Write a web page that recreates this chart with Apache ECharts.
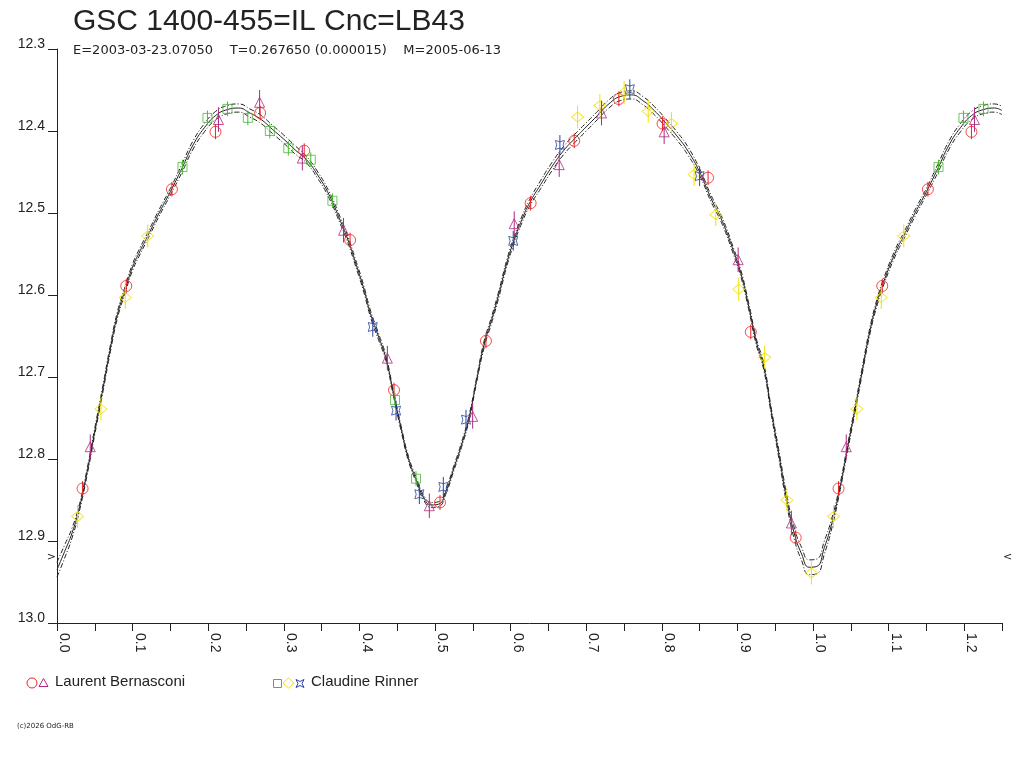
<!DOCTYPE html>
<html>
<head>
<meta charset="utf-8">
<title>GSC 1400-455=IL Cnc=LB43</title>
<script src="https://cdn.jsdelivr.net/npm/echarts@6/dist/echarts.min.js"></script>
<style>
html, body { margin: 0; padding: 0; background: #fff; }
#chart { width: 1024px; height: 768px; }
</style>
</head>
<body>
<div id="chart"></div>
<script>
// fitted light curve: phase and magnitude (middle fit, upper and lower envelope)
const fitPhase = [
  0.000,0.010,0.020,0.030,0.040,0.050,0.060,0.070,0.080,0.090,
  0.100,0.110,0.120,0.135,0.150,0.165,0.180,0.195,0.210,0.225,
  0.240,0.255,0.270,0.285,0.300,0.315,0.330,0.345,0.360,0.375,
  0.385,0.395,0.405,0.415,0.425,0.435,0.445,0.455,0.465,0.475,
  0.485,0.495,0.505,0.515,0.525,0.535,0.545,0.555,0.565,0.575,
  0.585,0.595,0.605,0.615,0.625,0.640,0.655,0.670,0.685,0.700,
  0.715,0.730,0.745,0.760,0.775,0.790,0.805,0.820,0.835,0.850,
  0.865,0.880,0.895,0.905,0.915,0.925,0.935,0.945,0.955,0.965,
  0.975,0.985,0.995,1.005,1.015,1.025,1.035,1.045,1.055,1.065,
  1.075,1.085,1.095,1.110,1.120,1.135,1.150,1.165,1.180,1.195,
  1.210,1.225,1.240,1.250
];
const fitMid = [
  12.935,12.913,12.890,12.858,12.815,12.766,12.718,12.668,12.624,12.594,
  12.566,12.546,12.528,12.500,12.474,12.446,12.417,12.396,12.381,12.374,
  12.372,12.378,12.386,12.398,12.410,12.423,12.435,12.454,12.478,12.510,
  12.533,12.561,12.590,12.624,12.650,12.677,12.720,12.762,12.800,12.825,
  12.847,12.856,12.855,12.838,12.811,12.783,12.750,12.704,12.660,12.630,
  12.597,12.561,12.532,12.508,12.488,12.465,12.443,12.424,12.409,12.395,
  12.381,12.367,12.358,12.356,12.363,12.375,12.390,12.406,12.425,12.450,
  12.482,12.510,12.547,12.575,12.614,12.657,12.688,12.743,12.795,12.848,
  12.890,12.916,12.932,12.931,12.908,12.878,12.838,12.790,12.742,12.693,
  12.645,12.608,12.580,12.546,12.528,12.500,12.474,12.446,12.417,12.396,
  12.381,12.374,12.372,12.375
];
const fitUpper = [
  12.926,12.905,12.884,12.854,12.811,12.762,12.714,12.664,12.620,12.590,
  12.562,12.542,12.524,12.496,12.470,12.441,12.412,12.391,12.376,12.369,
  12.367,12.373,12.381,12.393,12.405,12.418,12.431,12.450,12.474,12.506,
  12.529,12.557,12.586,12.620,12.646,12.674,12.717,12.759,12.797,12.822,
  12.844,12.853,12.852,12.835,12.808,12.780,12.747,12.701,12.656,12.626,
  12.593,12.557,12.528,12.504,12.484,12.460,12.438,12.419,12.404,12.390,
  12.376,12.362,12.353,12.351,12.358,12.370,12.385,12.401,12.420,12.446,
  12.478,12.506,12.543,12.571,12.610,12.653,12.684,12.739,12.790,12.842,
  12.883,12.908,12.923,12.922,12.900,12.872,12.834,12.786,12.738,12.689,
  12.641,12.604,12.576,12.542,12.524,12.496,12.470,12.441,12.412,12.391,
  12.376,12.369,12.367,12.370
];
const fitLower = [
  12.944,12.921,12.896,12.862,12.819,12.770,12.722,12.672,12.628,12.598,
  12.570,12.550,12.532,12.504,12.478,12.451,12.422,12.401,12.386,12.379,
  12.377,12.383,12.391,12.403,12.415,12.428,12.439,12.458,12.482,12.514,
  12.537,12.565,12.594,12.628,12.654,12.680,12.723,12.765,12.803,12.828,
  12.850,12.859,12.858,12.841,12.814,12.786,12.753,12.707,12.664,12.634,
  12.601,12.565,12.536,12.512,12.492,12.470,12.448,12.429,12.414,12.400,
  12.386,12.372,12.363,12.361,12.368,12.380,12.395,12.411,12.430,12.454,
  12.486,12.514,12.551,12.579,12.618,12.661,12.692,12.747,12.800,12.854,
  12.897,12.924,12.941,12.940,12.916,12.884,12.842,12.794,12.746,12.697,
  12.649,12.612,12.584,12.550,12.532,12.504,12.478,12.451,12.422,12.401,
  12.386,12.379,12.377,12.380
];

// observations [phase, mag]
// Laurent Bernasconi
const lbCircle = [
  [0.0338,12.836],[0.0916,12.589],[0.152,12.471],[0.2096,12.401],[0.2687,12.378],
  [0.327,12.424],[0.3877,12.533],[0.4458,12.716],[0.5066,12.853],[0.5674,12.656],
  [0.6265,12.488],[0.6841,12.412],[0.7432,12.361],[0.801,12.391],[0.8612,12.457],
  [0.9177,12.645],[0.9771,12.896]
];
const lbTriangle = [
  [0.044,12.785],[0.2136,12.386],[0.268,12.365],[0.3245,12.433],[0.379,12.521],
  [0.437,12.677],[0.4925,12.857],[0.5498,12.748],[0.6048,12.513],[0.6643,12.441],
  [0.7203,12.378],[0.8031,12.401],[0.901,12.557],[0.9714,12.878]
];
// Claudine Rinner
const crSquare = [
  [0.166,12.444],[0.199,12.384],[0.2255,12.373],[0.2524,12.384],[0.2815,12.400],
  [0.306,12.421],[0.3357,12.435],[0.3643,12.485],[0.4471,12.728],[0.4749,12.824]
];
const crDiamond = [
  [0.0272,12.870],[0.0581,12.739],[0.0903,12.603],[0.120,12.528],[0.6886,12.383],
  [0.7181,12.369],[0.7502,12.353],[0.782,12.376],[0.8128,12.391],[0.8427,12.453],
  [0.8714,12.502],[0.9018,12.593],[0.936,12.676],[0.9655,12.850],[0.9979,12.939]
];
const crStar = [
  [0.4177,12.639],[0.4485,12.741],[0.4793,12.843],[0.511,12.834],[0.541,12.752],
  [0.6035,12.534],[0.6652,12.417],[0.7577,12.349],[0.850,12.455]
];
// half length of the error bars (mag)
const errCircle = 0.009, errTriangle = 0.015, errSquare = 0.009, errDiamond = 0.014, errStar = 0.012;

const xTicks = { min: 0, max: 1.25, step: 0.05 };
const yTicks = { min: 12.3, max: 13.0, step: 0.1 };
const minLevel = 12.92;

const titleText = 'GSC 1400-455=IL Cnc=LB43';
const subText = 'E=2003-03-23.07050    T=0.267650 (0.000015)    M=2005-06-13';

const ink = '#222';
const starPath = 'path://M0,0 Q5,3 10,0 Q7,5 10,10 Q5,7 0,10 Q3,5 0,0 Z';

// phase plot shows 0..1.25, so early phases repeat one cycle later
const wrap = pts => pts.concat(pts.filter(p => p[0] < 0.25).map(p => [p[0] + 1, p[1]]));

const fitLine = (mags, type) => ({
  type: 'line',
  data: fitPhase.map((p, i) => [p, mags[i]]),
  showSymbol: false,
  smooth: true,
  silent: true,
  lineStyle: { color: ink, width: 1, type: type },
  z: 2
});

const observer = (pts, symbol, size, color, err) => {
  const data = wrap(pts);
  return [{
    type: 'scatter',
    data: data,
    symbol: symbol,
    symbolSize: size,
    itemStyle: { color: 'rgba(0,0,0,0)', borderColor: color, borderWidth: 1 },
    z: 3
  }, {
    type: 'custom',
    data: data.map(p => [p[0], p[1], err]),
    renderItem: (params, api) => {
      const x = api.value(0), y = api.value(1), e = api.value(2);
      const a = api.coord([x, y - e]);
      const b = api.coord([x, y + e]);
      return { type: 'line', shape: { x1: a[0], y1: a[1], x2: b[0], y2: b[1] },
               style: { stroke: color, lineWidth: 1 } };
    },
    z: 4
  }];
};

const chart = echarts.init(document.getElementById('chart'));
chart.setOption({
  animation: false,
  backgroundColor: '#fff',
  title: [{
    text: titleText, left: 73, top: 7, padding: 0,
    textStyle: { fontFamily: 'Liberation Sans', fontSize: 30, fontWeight: 'normal', color: ink }
  }, {
    text: subText, left: 73, top: 44, padding: 0,
    textStyle: { fontFamily: 'DejaVu Sans', fontSize: 13, fontWeight: 'normal', color: ink }
  }],
  grid: { left: 57, top: 49, width: 945, height: 574, containLabel: false },
  xAxis: {
    type: 'value', min: xTicks.min, max: xTicks.max, interval: xTicks.step,
    axisLine: { onZero: false, lineStyle: { color: ink, width: 1 } },
    axisTick: { length: 8, lineStyle: { color: ink } },
    splitLine: { show: false },
    axisLabel: {
      rotate: -90, margin: 10, verticalAlign: 'bottom',
      fontFamily: 'Liberation Sans', fontSize: 14, color: ink,
      showMinLabel: true, showMaxLabel: true,
      formatter: v => (Math.round(v * 100) % 10 === 0) ? v.toFixed(1) : ''
    }
  },
  yAxis: {
    type: 'value', inverse: true, min: yTicks.min, max: yTicks.max, interval: yTicks.step,
    axisLine: { show: true, lineStyle: { color: ink, width: 1 } },
    axisTick: { show: true, length: 9, lineStyle: { color: ink } },
    splitLine: { show: false },
    axisLabel: {
      margin: 12, verticalAlign: 'bottom', lineHeight: 10,
      fontFamily: 'Liberation Sans', fontSize: 14, color: ink,
      formatter: v => v.toFixed(1)
    }
  },
  series: [
    fitLine(fitUpper, [5, 2, 1, 2]),
    fitLine(fitMid, 'solid'),
    fitLine(fitLower, [5, 2, 1, 2]),
    ...observer(lbCircle, 'circle', 11, '#ee2222', errCircle),
    ...observer(lbTriangle, 'triangle', 10, '#b0287e', errTriangle),
    ...observer(crSquare, 'rect', 9, '#4cb838', errSquare),
    ...observer(crDiamond, 'diamond', [12, 10], '#f2e200', errDiamond),
    ...observer(crStar, starPath, 9, '#2c44a0', errStar)
  ]
});

// legend, copyright and min-level marks
const left = chart.convertToPixel({ gridIndex: 0 }, [xTicks.min, minLevel]);
const right = chart.convertToPixel({ gridIndex: 0 }, [xTicks.max, minLevel]);
chart.setOption({
  graphic: [
    { type: 'circle', shape: { cx: 32, cy: 683, r: 5 }, style: { fill: 'none', stroke: '#ee2222', lineWidth: 1 } },
    { type: 'polygon', shape: { points: [[43.5, 678.5], [48, 686.5], [39, 686.5]] }, style: { fill: 'none', stroke: '#b0287e', lineWidth: 1 } },
    { type: 'text', x: 55, y: 682, style: { text: 'Laurent Bernasconi', fontFamily: 'Liberation Sans', fontSize: 15, fill: ink, verticalAlign: 'middle' } },
    { type: 'rect', shape: { x: 273.5, y: 679.5, width: 8, height: 8 }, style: { fill: 'none', stroke: '#4cb838', lineWidth: 1 } },
    { type: 'polygon', shape: { points: [[288.5, 678], [294, 683], [288.5, 688], [283, 683]] }, style: { fill: 'none', stroke: '#f2e200', lineWidth: 1 } },
    { type: 'polygon', shape: { points: [[296, 679.5], [300, 681.5], [304, 679.5], [302, 683.5], [304, 687.5], [300, 685.5], [296, 687.5], [298, 683.5]] },
      style: { fill: 'none', stroke: '#2c44a0', lineWidth: 1 } },
    { type: 'text', x: 311, y: 682, style: { text: 'Claudine Rinner', fontFamily: 'Liberation Sans', fontSize: 15, fill: ink, verticalAlign: 'middle' } },
    { type: 'text', x: 17, y: 726, style: { text: '(c)2026 OdG-RB', fontFamily: 'DejaVu Sans', fontSize: 7, fill: ink, verticalAlign: 'middle' } },
    { type: 'text', x: left[0] - 1, y: left[1], style: { text: '>', fontFamily: 'DejaVu Sans', fontSize: 11, fill: ink, align: 'right', verticalAlign: 'middle' } },
    { type: 'text', x: right[0] + 1, y: right[1], style: { text: '<', fontFamily: 'DejaVu Sans', fontSize: 11, fill: ink, align: 'left', verticalAlign: 'middle' } }
  ]
});
</script>
</body>
</html>
